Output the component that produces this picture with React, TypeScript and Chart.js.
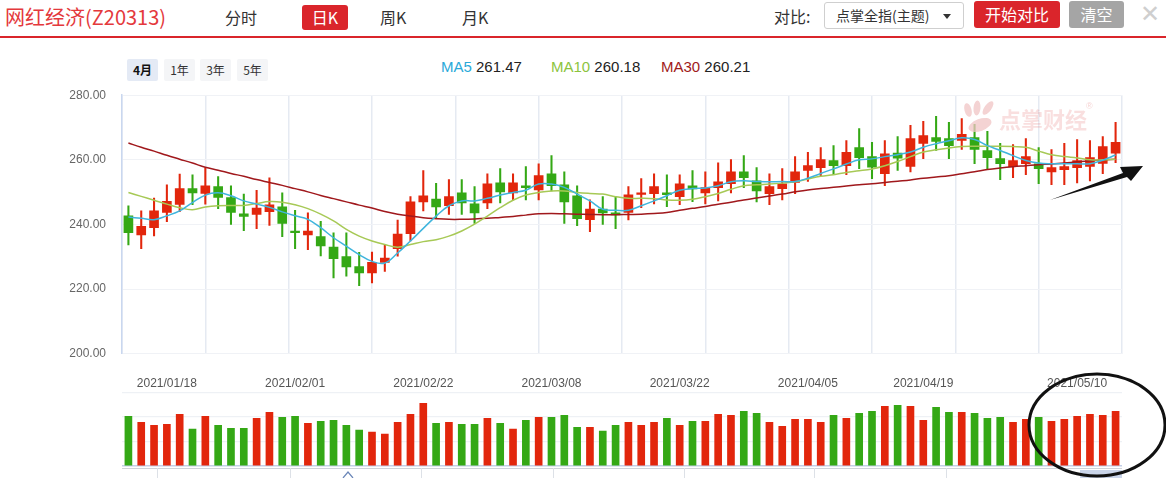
import React, { useEffect, useRef } from 'react';
import { Chart, registerables } from 'chart.js';

Chart.register(...registerables);

// ---------- DATA ----------
const dates = [
  '2021/01/13','2021/01/14','2021/01/15','2021/01/18','2021/01/19','2021/01/20','2021/01/21','2021/01/22','2021/01/25','2021/01/26','2021/01/27','2021/01/28','2021/01/29',
  '2021/02/01','2021/02/02','2021/02/03','2021/02/04','2021/02/05','2021/02/08','2021/02/09','2021/02/10','2021/02/18','2021/02/19','2021/02/22','2021/02/23','2021/02/24','2021/02/25','2021/02/26',
  '2021/03/01','2021/03/02','2021/03/03','2021/03/04','2021/03/05','2021/03/08','2021/03/09','2021/03/10','2021/03/11','2021/03/12','2021/03/15','2021/03/16','2021/03/17','2021/03/18','2021/03/19','2021/03/22','2021/03/23','2021/03/24','2021/03/25','2021/03/26','2021/03/29','2021/03/30','2021/03/31',
  '2021/04/01','2021/04/02','2021/04/06','2021/04/07','2021/04/08','2021/04/09','2021/04/12','2021/04/13','2021/04/14','2021/04/15','2021/04/16','2021/04/19','2021/04/20','2021/04/21','2021/04/22','2021/04/23','2021/04/26','2021/04/27','2021/04/28','2021/04/29','2021/04/30',
  '2021/05/06','2021/05/07','2021/05/10','2021/05/11','2021/05/12','2021/05/13',
];

const tickDates = ['2021/01/18','2021/02/01','2021/02/22','2021/03/08','2021/03/22','2021/04/05','2021/04/19','2021/05/10'];

const opens = [
  242.7,236.8,239.0,243.7,246.2,251.1,249.6,251.7,248.3,243.3,243.1,244.0,245.5,
  238.0,236.8,236.3,233.0,230.1,227.0,225.0,228.3,232.5,237.2,247.0,247.9,245.8,249.8,246.4,
  246.7,252.9,249.8,252.0,250.7,255.7,252.3,248.9,241.5,244.8,243.6,243.7,249.3,249.5,249.8,248.6,252.0,249.8,251.4,252.6,256.3,253.5,249.5,
  251.1,253.0,256.7,257.6,259.8,258.2,263.8,261.0,255.7,262.1,258.0,265.1,266.9,266.6,266.0,266.9,262.9,260.4,257.9,258.8,258.8,
  256.3,257.0,257.6,258.0,258.9,262.1,
];
const closes = [
  237.5,239.4,244.2,247.2,251.1,249.8,252.0,248.4,243.7,242.5,245.1,246.1,240.3,
  237.5,238.0,233.4,229.4,226.9,225.0,228.3,229.6,237.0,247.0,248.9,245.4,248.6,246.7,243.6,
  252.6,250.1,252.9,251.4,255.1,252.0,247.0,241.8,244.8,243.6,243.0,249.2,249.8,251.7,249.2,252.6,251.0,251.4,253.2,256.3,254.5,250.4,251.7,
  252.6,256.3,258.2,260.1,258.2,262.3,260.7,257.7,261.9,260.5,266.6,267.5,265.7,264.4,267.9,263.2,260.7,258.8,259.8,261.0,257.3,
  257.6,257.9,259.8,260.7,264.1,265.4,
];
const highs = [
  245.8,244.2,248.2,252.3,255.6,255.4,257.5,254.8,252.0,249.4,250.6,254.4,249.8,
  244.4,243.6,241.0,237.4,237.4,231.4,231.5,233.8,241.4,248.6,256.7,252.7,253.9,253.9,251.7,
  255.7,257.3,255.7,257.9,258.8,261.3,256.3,252.0,247.6,248.6,248.4,251.7,254.2,255.7,255.4,255.4,256.7,256.3,259.1,260.1,261.3,257.6,255.7,
  257.3,261.0,262.3,263.8,264.4,266.0,269.7,265.4,266.0,267.2,270.7,271.9,273.5,271.6,272.8,271.0,268.8,265.1,264.7,266.6,263.8,
  263.2,265.1,266.3,266.0,267.2,271.6,
];
const lows = [
  233.7,232.5,236.5,240.9,244.0,246.1,246.3,244.9,240.0,238.1,238.7,239.7,236.2,
  232.5,232.2,230.3,223.5,224.0,221.1,221.9,225.5,230.2,234.9,244.2,242.1,243.1,243.1,240.3,
  244.9,246.7,247.6,247.6,247.6,250.4,240.3,239.6,237.8,240.0,238.7,241.4,245.2,246.4,245.5,246.1,247.1,246.4,247.3,249.8,251.4,247.0,246.1,
  247.6,249.5,253.3,255.1,255.4,255.4,257.3,254.2,252.0,256.7,256.3,260.4,262.9,260.4,263.2,258.8,257.3,253.9,254.5,255.4,252.6,
  252.3,252.3,252.9,253.5,255.7,259.1,
];

const ma5 = [
  242.3,241.9,241.5,242.7,244.2,246.8,249.1,249.8,248.9,247.3,246.3,245.3,243.9,
  242.7,241.6,239.0,235.9,233.3,230.7,228.6,228.1,231.2,234.9,238.8,242.6,245.8,247.3,247.3,
  248.1,249.1,249.9,250.6,252.5,252.5,251.5,249.4,247.3,244.7,244.4,244.4,245.8,247.3,248.9,250.6,251.1,251.3,252.0,253.2,253.5,253.3,253.2,
  253.3,253.3,254.3,255.8,257.2,258.7,260.0,260.3,261.0,261.6,262.4,263.9,265.0,265.9,266.8,266.3,264.4,262.9,261.3,259.8,259.0,
  258.8,258.8,258.8,258.8,259.9,261.5,
];
const ma10 = [
  249.9,248.7,247.5,246.3,245.2,244.6,245.4,245.8,245.9,245.9,246.5,247.1,246.9,
  246.1,244.9,243.2,241.1,238.5,236.4,234.9,233.8,233.0,233.8,234.7,235.3,236.4,238.0,240.1,
  242.6,245.2,247.5,249.1,249.9,250.4,250.4,249.9,249.6,249.4,248.6,248.1,248.1,248.0,247.6,247.5,247.8,248.6,249.6,250.9,252.0,252.3,252.5,
  252.8,253.2,254.1,254.9,255.4,256.1,256.6,257.2,258.2,259.5,261.0,262.4,263.1,263.7,264.1,264.2,264.2,264.2,264.1,263.9,262.7,
  261.6,261.0,260.6,260.0,260.0,260.2,
];
const ma30 = [
  265.2,263.9,262.7,261.4,260.2,259.0,257.7,256.8,255.8,254.9,253.9,253.0,252.1,
  251.1,250.1,249.0,248.0,247.0,246.0,245.1,244.0,243.2,242.6,242.1,241.8,241.6,241.6,241.7,
  241.9,242.2,242.5,242.9,243.3,243.4,243.3,243.2,243.1,243.0,243.0,243.1,243.2,243.4,243.7,244.4,245.0,245.6,246.3,246.9,247.6,248.2,248.8,
  249.4,250.1,250.7,251.1,251.5,251.9,252.3,252.6,253.0,253.4,253.8,254.3,254.7,255.1,255.7,256.3,257.0,257.5,257.9,258.2,258.5,
  258.7,259.0,259.4,259.7,260.0,260.2,
];

const volumes = [
  150,132,123,126,156,111,150,123,114,114,144,162,147,
  150,129,135,138,123,108,102,96,132,156,189,129,132,126,126,
  144,129,111,138,147,147,153,117,117,105,123,132,123,132,144,123,135,135,156,153,165,159,132,
  120,141,141,132,153,144,159,165,180,183,180,138,177,162,162,159,144,147,132,141,147,
  135,141,150,156,153,165,
];

const priceTicks = [200, 220, 240, 260, 280];
const maNames = ['MA5', 'MA10', 'MA30'];
const maLast = ['261.47', '260.18', '260.21'];

// ---------- STYLE ----------
const RED = '#e2260c';
const GREEN = '#34a815';
const MA_COLORS = ['#3fb5dd', '#a7c956', '#a0181c'];
const MA_TEXT = ['#2aa9d9', '#8cc43e', '#a01a1a'];
const FONT = 'Arial, "Liberation Sans", "Noto Sans CJK SC", sans-serif';
const CJK = '"Noto Sans CJK SC", "Microsoft YaHei", sans-serif';

const candleColors = closes.map((c, i) => (c >= opens[i] ? RED : GREEN));
const tickMap: Record<number, string> = {};
tickDates.forEach((t) => {
  const idx = dates.findIndex((d) => d >= t);
  if (idx >= 0) tickMap[idx] = t;
});

function PriceChart() {
  const ref = useRef<HTMLCanvasElement>(null);
  useEffect(() => {
    const chart = new Chart(ref.current!, {
      data: {
        labels: dates,
        datasets: [
          ...[ma5, ma10, ma30].map((d, k) => ({
            type: 'line' as const,
            label: maNames[k],
            data: d,
            xAxisID: 'x',
            yAxisID: 'y',
            borderColor: MA_COLORS[k],
            borderWidth: 1.5,
            pointRadius: 0,
            tension: 0.4,
            order: 0,
          })),
          {
            type: 'bar' as const,
            label: 'wick',
            data: lows.map((l, i) => [l, highs[i]]),
            xAxisID: 'x',
            yAxisID: 'y',
            backgroundColor: candleColors,
            barThickness: 1.4,
            grouped: false,
            order: 2,
          },
          {
            type: 'bar' as const,
            label: 'body',
            data: opens.map((o, i) => [o, closes[i]]),
            xAxisID: 'x',
            yAxisID: 'y',
            backgroundColor: candleColors,
            barThickness: 9,
            minBarLength: 1.5,
            grouped: false,
            order: 1,
          },
        ],
      } as any,
      options: {
        responsive: false,
        animation: false,
        maintainAspectRatio: false,
        layout: { padding: { left: 0, right: 44, top: 15, bottom: 10 } },
        plugins: { legend: { display: false }, tooltip: { enabled: false } },
        scales: {
          x: { type: 'category', display: false, offset: true },
          xg: {
            type: 'linear',
            position: 'bottom',
            min: 0,
            max: 12,
            display: true,
            ticks: { display: false, stepSize: 1 },
            grid: { color: '#e5eaf2', lineWidth: 1.5, drawTicks: false },
            border: { display: false },
          },
          y: {
            min: 200,
            max: 280,
            afterBuildTicks: (s: any) => {
              s.ticks = priceTicks.map((v) => ({ value: v }));
            },
            ticks: {
              callback: (v: any) => Number(v).toFixed(2),
              color: '#666',
              font: { size: 12, family: FONT },
              padding: 16,
            },
            grid: { color: '#f0f2f6', drawTicks: false },
            border: { display: true, color: '#c9d7ef', width: 1.5 },
            afterFit: (s: any) => {
              s.width = 122;
            },
          },
        },
      } as any,
    });
    return () => chart.destroy();
  }, []);
  return (
    <canvas
      ref={ref}
      width={1166}
      height={305}
      style={{ position: 'absolute', left: 0, top: 72, width: 1166, height: 305 }}
    />
  );
}

function VolumeChart() {
  const ref = useRef<HTMLCanvasElement>(null);
  useEffect(() => {
    const chart = new Chart(ref.current!, {
      type: 'bar',
      data: {
        labels: dates,
        datasets: [
          {
            label: 'volume',
            data: volumes,
            backgroundColor: candleColors,
            barThickness: 7,
          },
        ],
      },
      options: {
        responsive: false,
        animation: false,
        maintainAspectRatio: false,
        layout: { padding: { left: 0, right: 44, top: 2, bottom: 6 } },
        plugins: { legend: { display: false }, tooltip: { enabled: false } },
        scales: {
          x: {
            type: 'category',
            position: 'top',
            offset: true,
            grid: { display: false, drawTicks: false },
            border: { display: false },
            ticks: {
              autoSkip: false,
              maxRotation: 0,
              minRotation: 0,
              padding: 2,
              color: '#555',
              font: { size: 12, family: FONT },
              callback: (_v: any, i: number) => tickMap[i] ?? '',
            },
          },
          y: {
            min: 0,
            max: 222,
            ticks: { display: false, stepSize: 74 },
            grid: {
              color: (ctx: any) => (ctx.tick && ctx.tick.value === 0 ? '#c3cfe8' : '#eef1f5'),
              lineWidth: (ctx: any) => (ctx.tick && ctx.tick.value === 0 ? 1.5 : 1.2),
              drawTicks: false,
            },
            border: { display: false },
            afterFit: (s: any) => {
              s.width = 122;
            },
          },
        },
      } as any,
    });
    return () => chart.destroy();
  }, []);
  return (
    <canvas
      ref={ref}
      width={1166}
      height={100}
      style={{ position: 'absolute', left: 0, top: 372, width: 1166, height: 100 }}
    />
  );
}

const abs = (o: React.CSSProperties): React.CSSProperties => ({ position: 'absolute', ...o });

export default function App() {
  useEffect(() => {
    document.body.style.margin = '0';
  }, []);
  const rangeBtns = ['4月', '1年', '3年', '5年'];
  const rangeLeft = [127, 164, 200, 237];
  const maLeft = [441, 551, 661];
  const navTicks = [157, 290, 421, 553, 684, 814, 946];
  return (
    <div style={{ position: 'fixed', left: 0, top: 0, width: 1166, height: 478, background: '#fff', overflow: 'hidden', fontFamily: CJK }}>
      {/* header */}
      <div style={abs({ left: 5, top: 3, fontSize: 20, color: '#e4393c', lineHeight: '28px', whiteSpace: 'nowrap' })}>网红经济(Z20313)</div>
      <div style={abs({ left: 225, top: 5, fontSize: 16, color: '#333', lineHeight: '24px' })}>分时</div>
      <div style={abs({ left: 302, top: 5, width: 46, height: 25, background: '#da252b', borderRadius: 3, color: '#fff', fontSize: 16, lineHeight: '25px', textAlign: 'center' })}>日K</div>
      <div style={abs({ left: 380, top: 5, fontSize: 16, color: '#333', lineHeight: '24px' })}>周K</div>
      <div style={abs({ left: 462, top: 5, fontSize: 16, color: '#333', lineHeight: '24px' })}>月K</div>

      <div style={abs({ left: 774, top: 4, fontSize: 16, color: '#333', lineHeight: '24px' })}>对比:</div>
      <div style={abs({ left: 824, top: 2, width: 138, height: 25, border: '1px solid #cfcfcf', borderRadius: 3, background: '#fff' })}>
        <div style={abs({ left: 11, top: 0, fontSize: 14, color: '#333', lineHeight: '25px', whiteSpace: 'nowrap' })}>点掌全指(主题)</div>
        <div style={abs({ left: 118, top: 11, width: 0, height: 0, borderLeft: '4px solid transparent', borderRight: '4px solid transparent', borderTop: '5px solid #333' })} />
      </div>
      <div style={abs({ left: 974, top: 1, width: 86, height: 27, background: '#da252b', borderRadius: 3, color: '#fff', fontSize: 16, lineHeight: '27px', textAlign: 'center' })}>开始对比</div>
      <div style={abs({ left: 1069, top: 1, width: 55, height: 27, background: '#a5a5a5', borderRadius: 3, color: '#fff', fontSize: 16, lineHeight: '27px', textAlign: 'center' })}>清空</div>
      <div style={abs({ left: 1140, top: 0, fontSize: 24, color: '#cfcfcf', lineHeight: '28px', fontFamily: FONT })}>✕</div>

      <div style={abs({ left: 0, top: 36, width: 1166, height: 2, background: '#da252b' })} />

      {/* range buttons */}
      {rangeBtns.map((t, i) => (
        <div
          key={t}
          style={abs({
            left: rangeLeft[i],
            top: 59,
            width: 31,
            height: 22,
            background: i === 0 ? '#e4eaf5' : '#f4f5f7',
            borderRadius: 2,
            fontSize: 12,
            fontWeight: i === 0 ? 700 : 400,
            color: i === 0 ? '#111' : '#333',
            lineHeight: '22px',
            textAlign: 'center',
          })}
        >
          {t}
        </div>
      ))}

      {/* MA legend */}
      {maNames.map((n, i) => (
        <div key={n} style={abs({ left: maLeft[i], top: 57, fontSize: 15, lineHeight: '20px', fontFamily: FONT, whiteSpace: 'nowrap' })}>
          <span style={{ color: MA_TEXT[i] }}>{n}</span>
          <span style={{ color: '#222' }}> {maLast[i]}</span>
        </div>
      ))}

      <PriceChart />
      <VolumeChart />

      {/* watermark */}
      <svg style={abs({ left: 960, top: 100, width: 40, height: 36 })} viewBox="0 0 40 36">
        <g fill="#f0c4c4" opacity="0.75">
          <ellipse cx="8" cy="10" rx="3.5" ry="7" transform="rotate(-15 8 10)" />
          <ellipse cx="17" cy="8" rx="3.5" ry="7.5" transform="rotate(5 17 8)" />
          <ellipse cx="28" cy="8" rx="3.5" ry="8" transform="rotate(35 28 8)" />
          <ellipse cx="20" cy="25" rx="12" ry="6" transform="rotate(-20 20 25)" />
        </g>
      </svg>
      <div style={abs({ left: 999, top: 103, fontSize: 22, fontWeight: 700, color: 'rgba(226,110,110,0.22)', lineHeight: '30px', whiteSpace: 'nowrap' })}>点掌财经</div>
      <div style={abs({ left: 1086, top: 101, fontSize: 9, color: 'rgba(226,110,110,0.3)', fontFamily: FONT })}>®</div>

      {/* navigator strip */}
      <div style={abs({ left: 122, top: 468, width: 1000, height: 1, background: '#cfd3da' })} />
      {navTicks.map((x) => (
        <div key={x} style={abs({ left: x, top: 468, width: 1, height: 10, background: '#dde1e7' })} />
      ))}
      <div style={abs({ left: 1080, top: 470, width: 42, height: 8, background: '#cad5ea' })} />
      <svg style={abs({ left: 342, top: 470, width: 12, height: 8 })} viewBox="0 0 12 8">
        <polyline points="1,8 6,2 11,8" fill="none" stroke="#6a86b8" strokeWidth="1.2" />
      </svg>

      {/* annotations */}
      <svg style={abs({ left: 0, top: 0, width: 1166, height: 478, pointerEvents: 'none' })} viewBox="0 0 1166 478">
        <polygon points="1050,200 1123,173 1120,167 1143,166 1131,181 1127,177" fill="#111" />
        <ellipse cx="1097" cy="425" rx="68" ry="51" fill="none" stroke="#111" strokeWidth="3" />
      </svg>
    </div>
  );
}
